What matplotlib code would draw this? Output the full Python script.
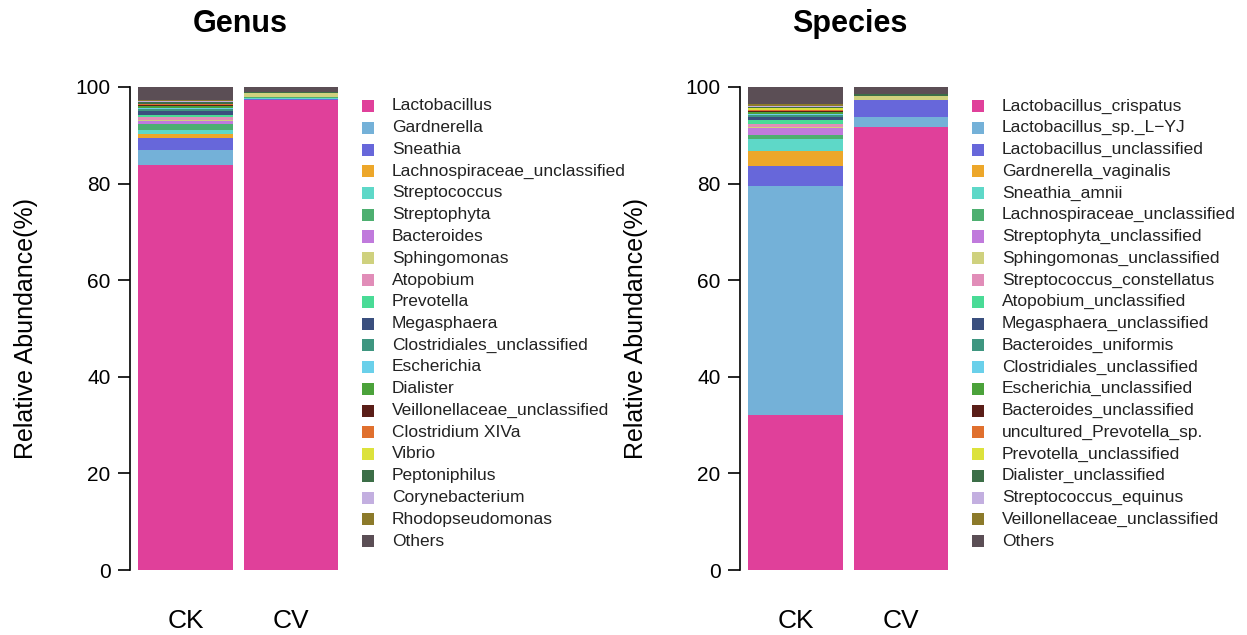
import numpy as np
import matplotlib.pyplot as plt
from matplotlib.patches import Rectangle

plt.rcParams['font.family'] = ['Liberation Sans', 'DejaVu Sans']

groups = ['CK', 'CV']

# shared palette, bottom-to-top stacking order
palette = ['#E0409A', '#74B1D8', '#6767DA', '#EDA72A', '#5ED8C8', '#4DAF70',
           '#C07ADC', '#CFD17E', '#E18DB8', '#49DB96', '#3A4F7E', '#3E9680',
           '#6AD0EA', '#4BA23A', '#5A1E18', '#E0702E', '#DCE23C', '#3C6E47',
           '#C3AFE0', '#8C7A2A', '#5B4E55']

genus_names = ['Lactobacillus', 'Gardnerella', 'Sneathia', 'Lachnospiraceae_unclassified',
               'Streptococcus', 'Streptophyta', 'Bacteroides', 'Sphingomonas', 'Atopobium',
               'Prevotella', 'Megasphaera', 'Clostridiales_unclassified', 'Escherichia',
               'Dialister', 'Veillonellaceae_unclassified', 'Clostridium XIVa', 'Vibrio',
               'Peptoniphilus', 'Corynebacterium', 'Rhodopseudomonas', 'Others']
genus_ck = [83.8, 3.2, 2.4, 0.8, 1.0, 1.1, 0.6, 0.2, 0.7, 0.5, 0.7,
            0.4, 0.3, 0.3, 0.2, 0.2, 0.1, 0.3, 0.2, 0.3, 2.7]
genus_cv = [97.3, 0.1, 0.05, 0.0, 0.3, 0.2, 0.0, 0.9, 0.0, 0.0, 0.0,
            0.0, 0.0, 0.0, 0.0, 0.0, 0.0, 0.1, 0.0, 0.0, 1.05]

species_names = ['Lactobacillus_crispatus', 'Lactobacillus_sp._L\u2212YJ',
                 'Lactobacillus_unclassified', 'Gardnerella_vaginalis', 'Sneathia_amnii',
                 'Lachnospiraceae_unclassified', 'Streptophyta_unclassified',
                 'Sphingomonas_unclassified', 'Streptococcus_constellatus',
                 'Atopobium_unclassified', 'Megasphaera_unclassified', 'Bacteroides_uniformis',
                 'Clostridiales_unclassified', 'Escherichia_unclassified',
                 'Bacteroides_unclassified', 'uncultured_Prevotella_sp.',
                 'Prevotella_unclassified', 'Dialister_unclassified', 'Streptococcus_equinus',
                 'Veillonellaceae_unclassified', 'Others']
species_ck = [32.0, 47.5, 4.2, 3.1, 2.4, 0.9, 1.4, 0.2, 0.7, 0.8, 0.6,
              0.4, 0.3, 0.3, 0.2, 0.3, 0.3, 0.3, 0.2, 0.3, 3.6]
species_cv = [91.7, 2.1, 3.6, 0.0, 0.0, 0.0, 0.0, 0.8, 0.0, 0.0, 0.0,
              0.0, 0.0, 0.0, 0.0, 0.0, 0.0, 0.3, 0.0, 0.0, 1.5]

W, H = 1247, 635
fig = plt.figure(figsize=(W / 100, H / 100), dpi=100)


def px_axes(left, top, width, height):
    return fig.add_axes([left / W, 1 - (top + height) / H, width / W, height / H])


def panel(left, title, names, ck, cv, legend_x):
    ax = px_axes(left, 87, 211, 483)
    data = np.array([ck, cv])
    x = np.array([0.5, 1.62])
    bottom = np.zeros(len(groups))
    for i in range(len(names)):
        ax.bar(x, data[:, i], width=1.0, bottom=bottom, color=palette[i], linewidth=0)
        bottom += data[:, i]
    ax.set_xlim(-0.09, 2.15)
    ax.set_ylim(0, 100)
    for s in ['top', 'right', 'bottom']:
        ax.spines[s].set_visible(False)
    ax.spines['left'].set_linewidth(1.2)
    ax.set_yticks([0, 20, 40, 60, 80, 100])
    ax.tick_params(axis='y', length=9, width=1.2, labelsize=15, pad=5)
    ax.set_xticks(x)
    ax.set_xticklabels(groups, fontsize=19)
    ax.tick_params(axis='x', length=0, pad=28)
    ax.set_ylabel('Relative Abundance(%)', fontsize=18)
    ax.yaxis.set_label_coords(-92 / 211, 0.5)
    fig.text((left + 110) / W, 1 - 24 / H, title, fontsize=22, fontweight='bold',
             ha='center', va='center')

    # legend: coloured squares with names, top row first
    row0, step = 106, 21.75
    for i, name in enumerate(names):
        yc = row0 + i * step
        fig.patches.append(Rectangle(((legend_x - 6) / W, 1 - (yc + 6) / H), 12 / W, 12 / H,
                                     transform=fig.transFigure, facecolor=palette[i],
                                     edgecolor='none'))
        fig.text((legend_x + 24) / W, 1 - yc / H, name, fontsize=12.5, va='center',
                 ha='left', color='#222222')
    return ax


panel(130, 'Genus', genus_names, genus_ck, genus_cv, 368)
panel(740, 'Species', species_names, species_ck, species_cv, 978)

fig.savefig('out.png', dpi=100)
